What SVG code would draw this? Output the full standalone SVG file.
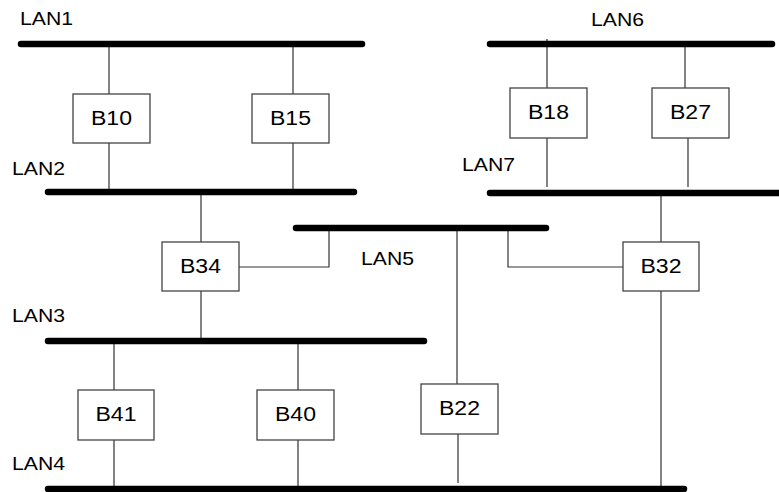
<svg xmlns="http://www.w3.org/2000/svg" width="779" height="492" viewBox="0 0 779 492">
<style>
.bus{stroke:#000;stroke-width:6.5;stroke-linecap:round;fill:none}
.wire{stroke:#333;stroke-width:1.2;fill:none}
.box{fill:#fff;stroke:#444;stroke-width:1.3}
.lbl{font-family:"Liberation Sans",Arial,sans-serif;font-size:18px;fill:#000}
.btx{font-family:"Liberation Sans",Arial,sans-serif;font-size:20px;fill:#000;text-anchor:middle}
</style>
<rect width="779" height="492" fill="#fff"/>
<g id="connectors">
<path class="wire" d="M109 44V94M109 143V192"/>
<path class="wire" d="M293 44V94M293 143V192"/>
<path class="wire" d="M547 39V88M547 138V187"/>
<path class="wire" d="M685 44V88M688 138V187"/>
<path class="wire" d="M201 192V242M201 291V341M239 267H329V228"/>
<path class="wire" d="M661 193V242M661 291V489M508 228V267H623"/>
<path class="wire" d="M457 228V384M458 434V483"/>
<path class="wire" d="M114 341V390M114 440V489"/>
<path class="wire" d="M298 341V390M298 440V489"/>
</g>
<g id="LAN1"><line class="bus" x1="21" y1="44" x2="362" y2="44"/><text class="lbl" x="20" y="25" textLength="53" lengthAdjust="spacingAndGlyphs">LAN1</text></g>
<g id="LAN2"><line class="bus" x1="48" y1="192" x2="354" y2="192"/><text class="lbl" x="12" y="175" textLength="53" lengthAdjust="spacingAndGlyphs">LAN2</text></g>
<g id="LAN3"><line class="bus" x1="48" y1="341" x2="424" y2="341"/><text class="lbl" x="12" y="322" textLength="53" lengthAdjust="spacingAndGlyphs">LAN3</text></g>
<g id="LAN4"><line class="bus" x1="48" y1="489" x2="684" y2="489"/><text class="lbl" x="12" y="470" textLength="53" lengthAdjust="spacingAndGlyphs">LAN4</text></g>
<g id="LAN5"><line class="bus" x1="296" y1="228" x2="546" y2="228"/><text class="lbl" x="361" y="265" textLength="53" lengthAdjust="spacingAndGlyphs">LAN5</text></g>
<g id="LAN6"><line class="bus" x1="490" y1="44" x2="772" y2="44"/><text class="lbl" x="591" y="26" textLength="53" lengthAdjust="spacingAndGlyphs">LAN6</text></g>
<g id="LAN7"><line class="bus" x1="490" y1="193" x2="785" y2="193"/><text class="lbl" x="462" y="171" textLength="53" lengthAdjust="spacingAndGlyphs">LAN7</text></g>
<g id="B10"><rect class="box" x="73" y="94" width="77" height="49"/><text class="btx" x="111.5" y="125" textLength="41" lengthAdjust="spacingAndGlyphs">B10</text></g>
<g id="B15"><rect class="box" x="252" y="94" width="77" height="49"/><text class="btx" x="290.5" y="125" textLength="41" lengthAdjust="spacingAndGlyphs">B15</text></g>
<g id="B18"><rect class="box" x="510" y="88" width="77" height="50"/><text class="btx" x="548.5" y="119" textLength="41" lengthAdjust="spacingAndGlyphs">B18</text></g>
<g id="B27"><rect class="box" x="652" y="88" width="77" height="50"/><text class="btx" x="690.5" y="119" textLength="41" lengthAdjust="spacingAndGlyphs">B27</text></g>
<g id="B34"><rect class="box" x="162" y="242" width="77" height="49"/><text class="btx" x="200.5" y="273" textLength="41" lengthAdjust="spacingAndGlyphs">B34</text></g>
<g id="B32"><rect class="box" x="623" y="242" width="76" height="49"/><text class="btx" x="661" y="273" textLength="41" lengthAdjust="spacingAndGlyphs">B32</text></g>
<g id="B41"><rect class="box" x="78" y="390" width="76" height="50"/><text class="btx" x="116" y="421" textLength="41" lengthAdjust="spacingAndGlyphs">B41</text></g>
<g id="B40"><rect class="box" x="257" y="390" width="77" height="50"/><text class="btx" x="295.5" y="421" textLength="41" lengthAdjust="spacingAndGlyphs">B40</text></g>
<g id="B22"><rect class="box" x="421" y="384" width="77" height="50"/><text class="btx" x="459.5" y="415" textLength="41" lengthAdjust="spacingAndGlyphs">B22</text></g>
</svg>
